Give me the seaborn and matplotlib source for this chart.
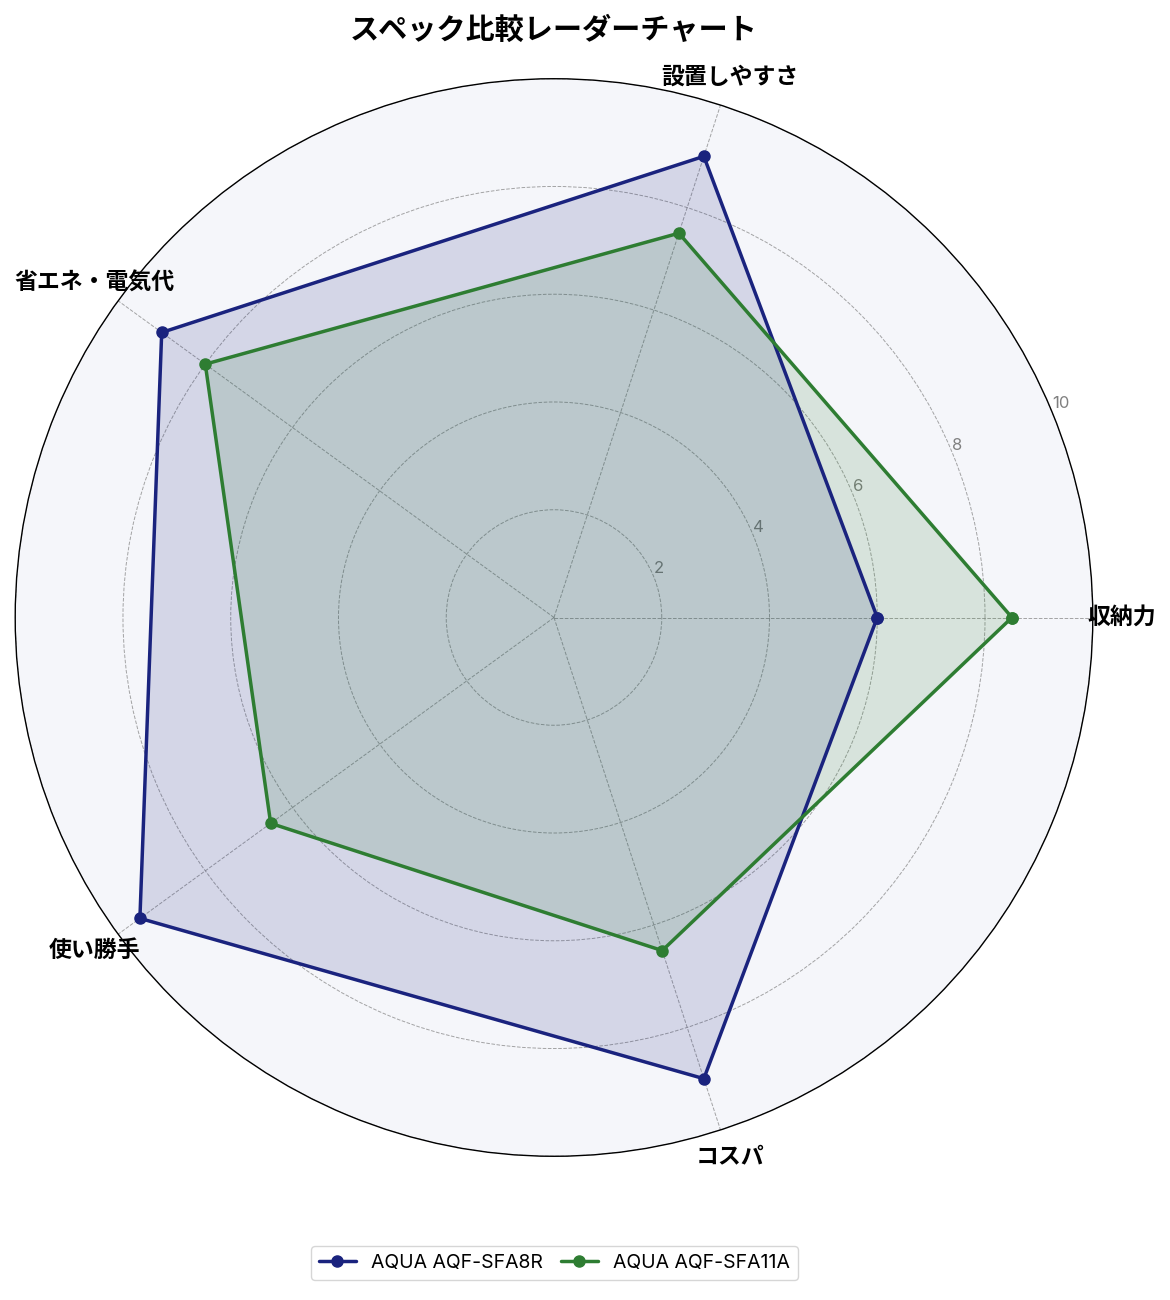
"""Radar chart comparing two AQUA refrigerators"""

import matplotlib.pyplot as plt
import numpy as np
import seaborn as sns

categories = ["収納力", "設置しやすさ", "省エネ・電気代", "使い勝手", "コスパ"]
model_names = ["AQUA AQF-SFA8R", "AQUA AQF-SFA11A"]
scores_sfa8r = [6.0, 9.0, 9.0, 9.5, 9.0]
scores_sfa11a = [8.5, 7.5, 8.0, 6.5, 6.5]
r_ticks = [2, 4, 6, 8, 10]

colors = ["#1a237e", "#2e7d32"]

sns.set_theme(style="white")
plt.rcParams["font.family"] = ["Inter", "Noto Sans CJK JP", "DejaVu Sans"]
plt.rcParams["text.color"] = "black"

n = len(categories)
angles = np.linspace(0, 2 * np.pi, n, endpoint=False)
angles_closed = np.concatenate([angles, angles[:1]])

fig = plt.figure(figsize=(11.7, 13), dpi=100)
ax = fig.add_axes([0.013, 0.11, 0.921, 0.83], projection="polar")
ax.set_facecolor("#f5f6fa")

for name, scores, color in zip(model_names, [scores_sfa8r, scores_sfa11a], colors):
    vals = np.concatenate([scores, scores[:1]])
    ax.plot(angles_closed, vals, color=color, linewidth=2.5, marker="o",
            markersize=8, label=name)
    ax.fill(angles_closed, vals, color=color, alpha=0.15)

ax.set_ylim(0, 10)
ax.set_yticks(r_ticks)
ax.set_yticklabels([str(t) for t in r_ticks], color="gray", fontsize=12)
ax.set_rlabel_position(22.5)
ax.set_xticks(angles)
ax.set_xticklabels(categories, fontsize=16.5, fontweight="bold", color="black")
ax.tick_params(axis="x", pad=8)
ax.grid(color="gray", linestyle="--", linewidth=0.7, alpha=0.7)
ax.spines["polar"].set_color("black")
ax.spines["polar"].set_linewidth(1.0)

ax.set_title("スペック比較レーダーチャート", fontsize=21, fontweight="bold",
             pad=29, color="black")

fig.legend(loc="lower center", ncol=2, bbox_to_anchor=(0.474, 0.008),
           fontsize=14, frameon=True, fancybox=True, columnspacing=0.9,
           handlelength=1.9)

fig.savefig("out.png", dpi=100)
